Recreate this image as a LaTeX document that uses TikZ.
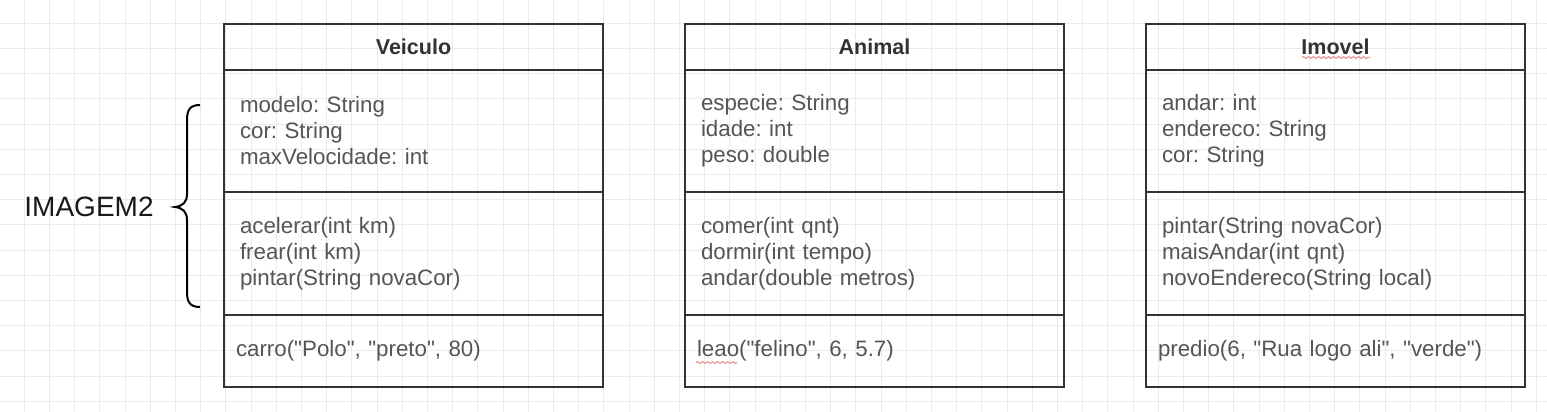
\documentclass[tikz,border=0pt]{standalone}
\usepackage{fontspec}
\setmainfont{Liberation Sans}[Ligatures=TeXOff]
\frenchspacing
\usetikzlibrary{decorations.pathmorphing}
\definecolor{gridc}{HTML}{EBEBEB}
\definecolor{boxc}{HTML}{333333}
\definecolor{txtc}{HTML}{555555}
\definecolor{ttlc}{HTML}{333333}
\definecolor{spellc}{HTML}{EE9A9A}
\tikzset{
  comp/.style={draw=boxc, line width=2pt, rectangle, anchor=north west, outer sep=0pt,
    minimum width=379pt, inner xsep=16pt, text width=347pt, align=left, inner ysep=0pt,
    text=txtc, font=\fontsize{22.3pt}{26pt}\selectfont},
  hdr/.style={comp, align=center, text=ttlc, font=\fontsize{21.5pt}{25pt}\selectfont\bfseries, minimum height=46pt},
  attr/.style={comp, minimum height=122pt},
  meth/.style={comp, minimum height=123pt},
  inst/.style={comp, minimum height=72pt, inner xsep=12pt, text width=355pt},
  spell/.style={draw=spellc, line width=1.3pt, decorate, decoration={snake, amplitude=0.8pt, segment length=5pt}}
}
\begin{document}
\begin{tikzpicture}[x=1pt,y=-1pt]
\useasboundingbox (0,0) rectangle (1547,412);
\fill[white] (0,0) rectangle (1547,412);
\foreach \k in {0,...,60} {\draw[gridc, line width=1pt] ({24.3+25.2*\k},0) -- ({24.3+25.2*\k},412);}
\foreach \k in {0,...,15} {\draw[gridc, line width=1pt] (0,{23.3+25.2*\k}) -- (1547,{23.3+25.2*\k});}
% Veiculo
\node[hdr] (v1) at (224,24) {Veiculo};
\node[attr] (v2) at (224,70) {modelo: String\\cor: String\\maxVelocidade: int};
\node[meth] (v3) at (224,192) {acelerar(int km)\\frear(int km)\\pintar(String novaCor)};
\node[inst] (v4) at (224,315) {carro("Polo", "preto", 80)};
% Animal
\node[hdr] (a1) at (685,24) {Animal};
\node[attr] (a2) at (685,70) {especie: String\\idade: int\\peso: double};
\node[meth] (a3) at (685,192) {comer(int qnt)\\dormir(int tempo)\\andar(double metros)};
\node[inst] (a4) at (685,315) {leao("felino", 6, 5.7)};
% Imovel
\node[hdr] (i1) at (1146,24) {Imovel};
\node[attr] (i2) at (1146,70) {andar: int\\endereco: String\\cor: String};
\node[meth] (i3) at (1146,192) {pintar(String novaCor)\\maisAndar(int qnt)\\novoEndereco(String local)};
\node[inst] (i4) at (1146,315) {predio(6, "Rua logo ali", "verde")};
% brace and label
\node[font=\fontsize{28pt}{32pt}\selectfont, text=black!90, inner sep=0pt] (lbl) at (89,207) {IMAGEM2};
\draw[line width=2pt, black] (200,105) .. controls (190,105) and (187,110) .. (187,120)
  -- (187,194) .. controls (187,202) and (183,206) .. (175,207)
  .. controls (183,208) and (187,212) .. (187,220)
  -- (187,292) .. controls (187,302) and (190,307) .. (200,307);
% spell-check underlines
\draw[spell] (1302,57.5) -- (1370,57.5);
\draw[spell] (696,362.5) -- (737,362.5);
\end{tikzpicture}
\end{document}
